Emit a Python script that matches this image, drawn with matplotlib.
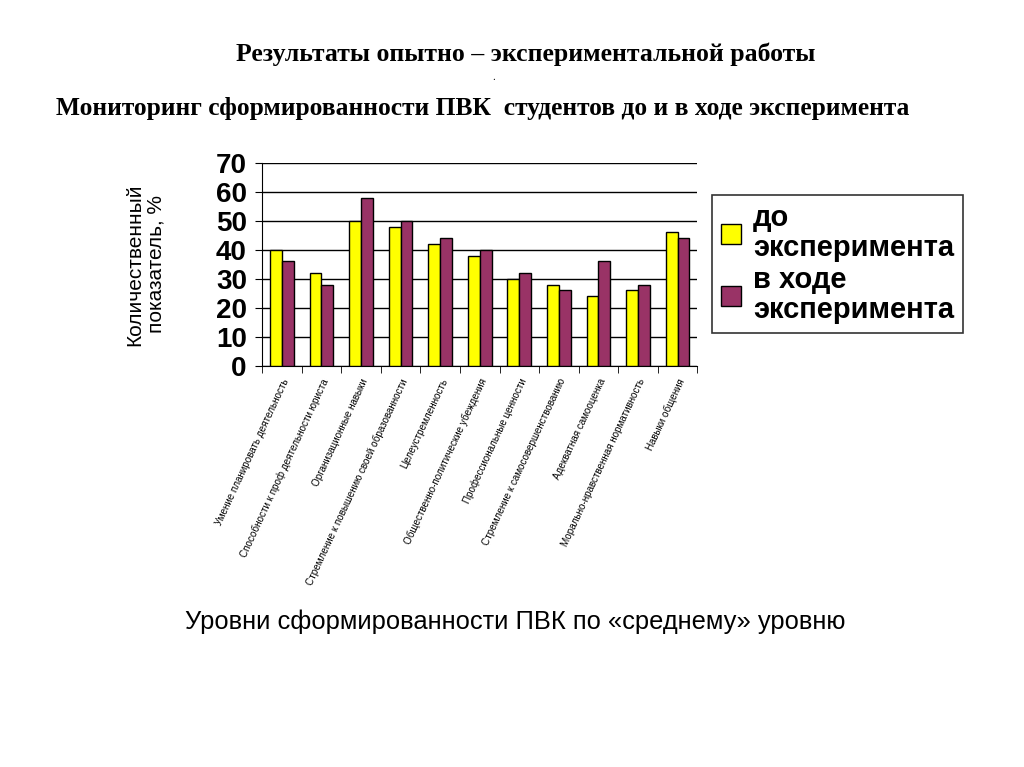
import matplotlib.pyplot as plt
import numpy as np

categories = [
    "Умение планировать деятельность",
    "Способности к проф деятельности юриста",
    "Организационные навыки",
    "Стремление к повышению своей образованности",
    "Целеустремленность",
    "Общественно-политические убеждения",
    "Профессиональные ценности",
    "Стремление к самосовершенствованию",
    "Адекватная самооценка",
    "Морально-нравственная нормативность",
    "Навыки общения",
]
before = [40, 32, 50, 48, 42, 38, 30, 28, 24, 26, 46]
during = [36, 28, 58, 50, 44, 40, 32, 26, 36, 28, 44]
yticks = [0, 10, 20, 30, 40, 50, 60, 70]

fig = plt.figure(figsize=(10.24, 7.67), dpi=100)
ax = fig.add_axes([0.256, 0.523, 0.425, 0.2647])

x = np.arange(len(categories))
w = 0.3
ax.bar(x - w / 2, before, w, color='#FFFF00', edgecolor='black', linewidth=1,
       label='до\nэксперимента', zorder=3)
ax.bar(x + w / 2, during, w, color='#993366', edgecolor='black', linewidth=1,
       label='в ходе\nэксперимента', zorder=3)

ax.set_xlim(-0.5, len(categories) - 0.5)
ax.set_ylim(0, 70)
ax.set_yticks(yticks)
ax.set_yticklabels([str(v) for v in yticks], fontsize=20, fontweight='bold',
                   family='Liberation Sans')
ax.yaxis.grid(True, color='black', linewidth=1, zorder=0)
ax.set_axisbelow(True)

ax.set_xticks(x)
ax.set_xticklabels(categories, rotation=65, ha='right', rotation_mode='anchor',
                   fontsize=7.1, family='Liberation Sans')
ax.tick_params(axis='x', which='major', length=0, pad=8)
ax.set_xticks(np.arange(-0.5, len(categories), 1), minor=True)
ax.tick_params(axis='x', which='minor', length=5, color='black')
ax.tick_params(axis='y', length=5, color='black', pad=6)

for s in ['top', 'right']:
    ax.spines[s].set_visible(False)
ax.spines['left'].set_color('black')
ax.spines['bottom'].set_color('black')

ax.set_ylabel('Количественный\nпоказатель, %', fontsize=15, family='Liberation Sans',
              labelpad=36)

leg = ax.legend(loc='upper left', bbox_to_anchor=(1.034, 0.84), borderaxespad=0,
                frameon=True, fancybox=False, edgecolor='black',
                handlelength=0.7, handleheight=0.7, handletextpad=0.4,
                labelspacing=0.15, borderpad=0.3,
                prop={'family': 'Liberation Sans', 'weight': 'bold', 'size': 21})
leg.get_frame().set_linewidth(1.2)
for t in leg.get_texts():
    t.set_linespacing(1.08)

fig.text(0.513, 0.929, 'Результаты опытно – экспериментальной работы', ha='center',
         va='center', fontsize=18.5, fontweight='bold', family='Liberation Serif')
fig.text(0.482, 0.899, '.', ha='center', va='center', fontsize=8, family='Liberation Serif')
fig.text(0.471, 0.858, 'Мониторинг сформированности ПВК  студентов до и в ходе эксперимента',
         ha='center', va='center', fontsize=18.4, fontweight='bold', family='Liberation Serif')
fig.text(0.503, 0.19, 'Уровни сформированности ПВК по «среднему» уровню', ha='center',
         va='center', fontsize=18.4, family='Liberation Sans')

fig.savefig('out.png', dpi=100)
